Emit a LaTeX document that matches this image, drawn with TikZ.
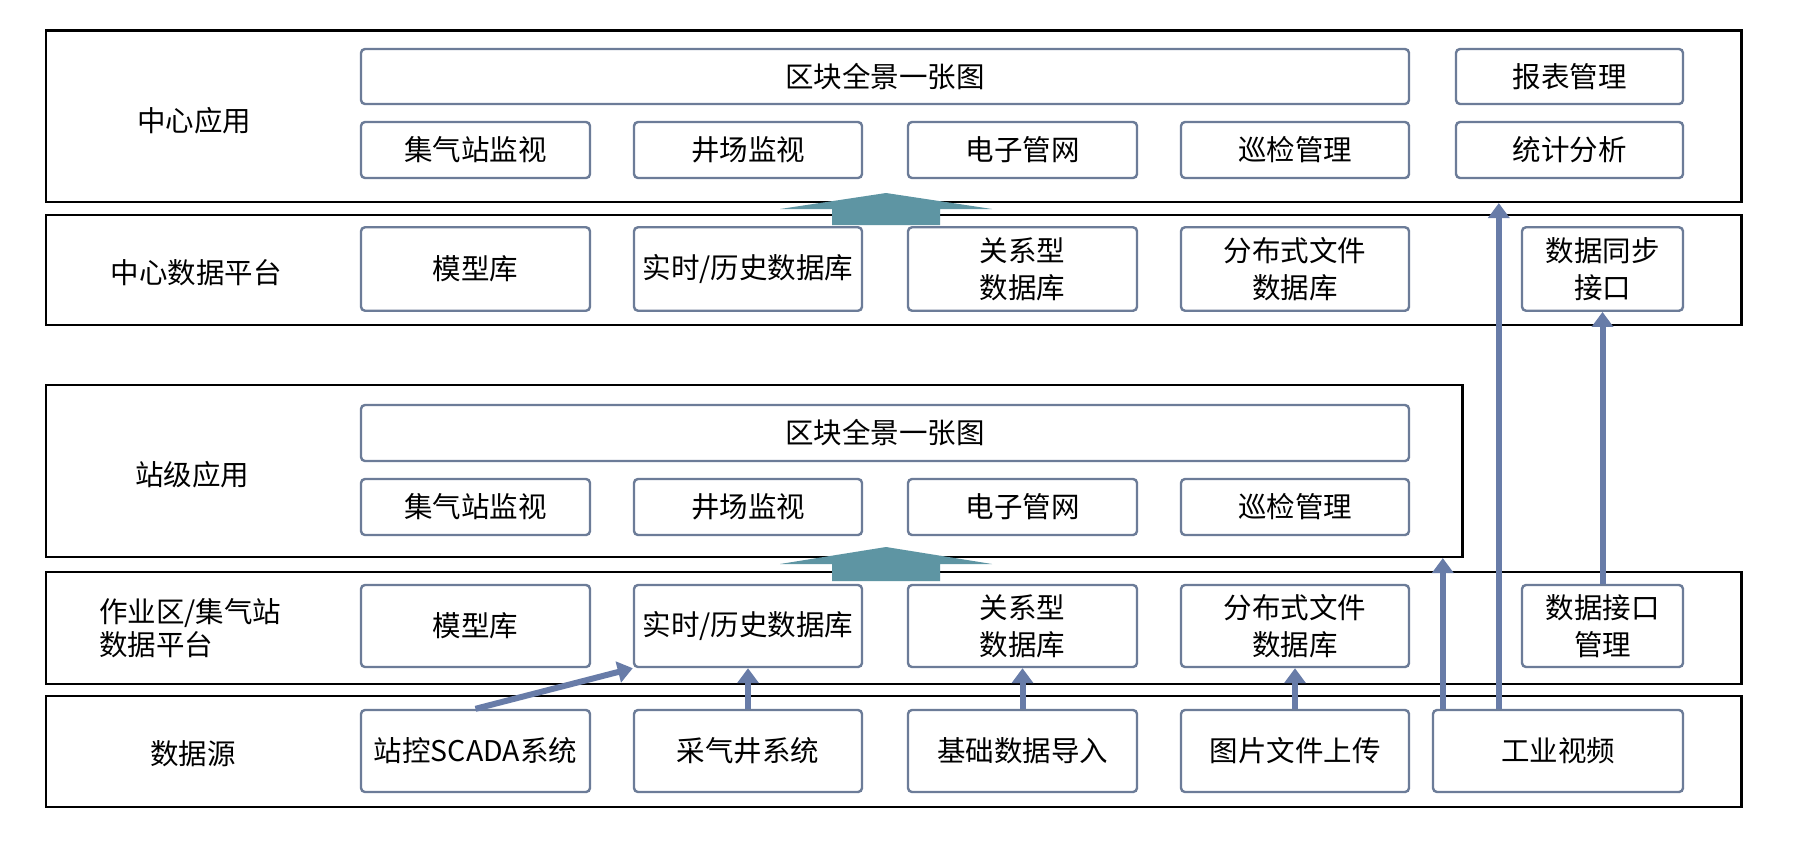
\documentclass[tikz,border=0pt]{standalone}
\usepackage{fontspec}
\newfontfamily\cjk{Noto Sans CJK SC}
\usetikzlibrary{arrows.meta}
\definecolor{boxc}{RGB}{108,124,152}
\definecolor{arrc}{RGB}{104,124,168}
\definecolor{tealc}{RGB}{94,149,163}
\begin{document}
\begin{tikzpicture}[x=1pt,y=-1pt,
  outer/.style={draw=black, line width=2.2pt, inner sep=0pt},
  ibox/.style={draw=boxc, line width=2.4pt, rounded corners=4pt, fill=white,
    font=\cjk\fontsize{28.5}{37}\selectfont, align=center, inner sep=0pt},
  lbl/.style={font=\cjk\fontsize{28.5}{33}\selectfont, align=left, inner sep=0pt},
  arr/.style={draw=arrc, line width=6pt, -{Triangle[width=21pt,length=15pt]}},
  teal/.style={fill=tealc}]
\useasboundingbox (0,0) rectangle (1793,841);
\fill[white] (0,0) rectangle (1793,841);
% outer layers
\node[outer, minimum width=1695.8pt, minimum height=171.5pt] (zx) at (893.6,116.25) {};
\node[outer, minimum width=1695.8pt, minimum height=110pt] (zs) at (893.6,270) {};
\node[outer, minimum width=1416.8pt, minimum height=172pt] (zj) at (754.1,471) {};
\node[outer, minimum width=1695.8pt, minimum height=112pt] (zy) at (893.6,628) {};
\node[outer, minimum width=1695.8pt, minimum height=111pt] (sj) at (893.6,751.5) {};
% layer labels
\node[lbl] (l1) at (194,121) {中心应用};
\node[lbl] (l2) at (196,273) {中心数据平台};
\node[lbl] (l3) at (192,475) {站级应用};
\node[lbl, anchor=west] (l4) at (99,628) {作业区/集气站\\数据平台};
\node[lbl] (l5) at (193,754) {数据源};
% center application
\node[ibox, minimum width=1048pt, minimum height=55pt] (a1) at (885,76.5) {区块全景一张图};
\node[ibox, minimum width=227pt, minimum height=55pt] (a2) at (1569.5,76.5) {报表管理};
\node[ibox, minimum width=229pt, minimum height=56pt] (b1) at (475.5,150) {集气站监视};
\node[ibox, minimum width=228pt, minimum height=56pt] (b2) at (748,150) {井场监视};
\node[ibox, minimum width=229pt, minimum height=56pt] (b3) at (1022.5,150) {电子管网};
\node[ibox, minimum width=228pt, minimum height=56pt] (b4) at (1295,150) {巡检管理};
\node[ibox, minimum width=227pt, minimum height=56pt] (b5) at (1569.5,150) {统计分析};
% center data platform
\node[ibox, minimum width=229pt, minimum height=83.5pt] (c1) at (475.5,269) {模型库};
\node[ibox, minimum width=228pt, minimum height=83.5pt] (c2) at (748,269) {实时/历史数据库};
\node[ibox, minimum width=229pt, minimum height=83.5pt] (c3) at (1022.5,269) {关系型\\数据库};
\node[ibox, minimum width=228pt, minimum height=83.5pt] (c4) at (1295,269) {分布式文件\\数据库};
\node[ibox, minimum width=161pt, minimum height=83.5pt] (tb) at (1602.5,269) {数据同步\\接口};
% station application
\node[ibox, minimum width=1048pt, minimum height=56pt] (d1) at (885,433) {区块全景一张图};
\node[ibox, minimum width=229pt, minimum height=56pt] (e1) at (475.5,507) {集气站监视};
\node[ibox, minimum width=228pt, minimum height=56pt] (e2) at (748,507) {井场监视};
\node[ibox, minimum width=229pt, minimum height=56pt] (e3) at (1022.5,507) {电子管网};
\node[ibox, minimum width=228pt, minimum height=56pt] (e4) at (1295,507) {巡检管理};
% work-area data platform
\node[ibox, minimum width=229pt, minimum height=82pt] (f1) at (475.5,626) {模型库};
\node[ibox, minimum width=228pt, minimum height=82pt] (f2) at (748,626) {实时/历史数据库};
\node[ibox, minimum width=229pt, minimum height=82pt] (f3) at (1022.5,626) {关系型\\数据库};
\node[ibox, minimum width=228pt, minimum height=82pt] (f4) at (1295,626) {分布式文件\\数据库};
\node[ibox, minimum width=161pt, minimum height=82pt] (jk) at (1602.5,626) {数据接口\\管理};
% data sources
\node[ibox, minimum width=229pt, minimum height=82pt] (g1) at (475.5,751) {站控SCADA系统};
\node[ibox, minimum width=228pt, minimum height=82pt] (g2) at (748,751) {采气井系统};
\node[ibox, minimum width=229pt, minimum height=82pt] (g3) at (1022.5,751) {基础数据导入};
\node[ibox, minimum width=228pt, minimum height=82pt] (g4) at (1295,751) {图片文件上传};
\node[ibox, minimum width=250pt, minimum height=82pt] (gy) at (1558,751) {工业视频};
% connectors
\draw[arr] (g1.north) -- (f2.south west);
\draw[arr] (g2.north) -- (f2.south);
\draw[arr] (g3.north) -- (f3.south);
\draw[arr] (g4.north) -- (f4.south);
\draw[arr] ([xshift=11pt]gy.north west) -- ([xshift=11pt]gy.north west |- zj.south);
\draw[arr] ([xshift=67pt]gy.north west) -- ([xshift=67pt]gy.north west |- zx.south);
\draw[arr] (jk.north) -- (tb.south);
% big teal arrows
\fill[teal] (780,209) -- (886,193) -- (992,209) -- (940,209) -- (940,225) -- (832,225) -- (832,209) -- cycle;
\fill[teal] (780,564) -- (886,547) -- (992,564) -- (940,564) -- (940,581) -- (832,581) -- (832,564) -- cycle;
\end{tikzpicture}
\end{document}
